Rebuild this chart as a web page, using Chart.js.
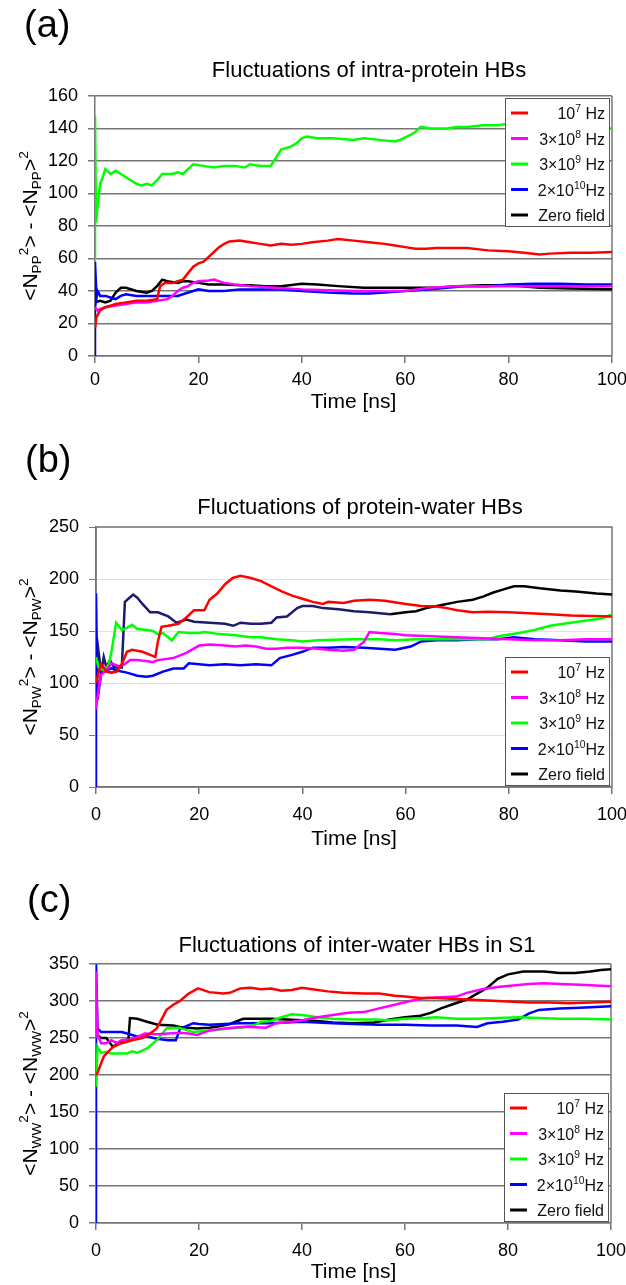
<!DOCTYPE html>
<html>
<head>
<meta charset="utf-8">
<script src="https://cdn.jsdelivr.net/npm/chart.js@4.4.1/dist/chart.umd.min.js"></script>
<style>
  html, body { margin: 0; padding: 0; background: #fff; }
  #wrap { position: relative; width: 626px; height: 1285px; }
  canvas { position: absolute; left: 0; }
</style>
</head>
<body>
<div id="wrap">
  <canvas id="chartPP" width="626" height="430" style="top:0"></canvas>
  <canvas id="chartPW" width="626" height="430" style="top:430px"></canvas>
  <canvas id="chartWW" width="626" height="425" style="top:860px"></canvas>
</div>
<script>
// series labels (^{} = superscript, _{} = subscript)
const seriesLabels = ['10^{7} Hz', '3×10^{8} Hz', '3×10^{9} Hz', '2×10^{10}Hz', 'Zero field'];
const seriesColors = ['#ff0000', '#ff00ff', '#00ff00', '#0000ff', '#000000'];
const xTicks = [0, 20, 40, 60, 80, 100];

// (a) intra-protein HBs, [time ns, value]
const ppRed = [[0,17],[0.3,24],[1,28],[2,30],[3,31],[4,32],[6,33],[8,34],[10,34],[12,35],[12.6,43],[13.5,45],[15,45],[16,46],[17,47],[18,51],[19,55],[20,57],[21,58],[22,61],[23,64],[24,67],[25,69],[26,70.5],[28,71],[30,70],[32,69],[34,68],[36,69],[38,68.5],[40,69],[42,70],[45,71],[47,72],[50,71],[53,70],[56,69],[58,68],[60,67],[62,66],[64,66],[66,66.5],[68,66.5],[72,66.5],[76,65],[80,64.5],[83,63.5],[86,62.5],[88,63],[92,63.5],[96,63.5],[100,64]];
const ppMagenta = [[0,30],[0.5,28],[1,29],[2,30],[4,31],[6,32],[8,33],[10,33],[12,34],[14,35],[15,37],[16,40],[17,42],[18,43],[19,45],[20,46],[22,46.5],[23,47],[25,45],[27,44],[30,43],[35,42],[40,41],[45,40.5],[50,40],[55,40],[60,40],[65,42],[70,43],[75,43],[80,43],[90,43],[100,43]];
const ppGreen = [[0,60],[0,148],[0.2,82],[0.5,92],[1,106],[1.5,110],[2,115],[3,112],[4,114],[5,112],[6,110],[7,108],[8,106],[9,105],[10,106],[11,105],[12,108],[13,112],[15,112],[16,113],[17,112],[18,115],[19,118],[21,117],[23,116],[25,117],[27,117],[29,116],[30,118],[32,117],[34,117],[35,122],[36,127],[38,129],[39,131],[40,134],[41,135],[43,134],[46,134],[50,133],[52,134],[55,133],[58,132],[59,133],[61,136],[62,138],[63,141],[65,140],[68,140],[70,141],[72,141],[75,142],[78,142],[80,143],[85,143],[90,142],[95,141],[100,140]];
const ppBlue = [[0,0],[0,58],[0.3,36],[0.5,40],[1,37],[2,37],[3,36],[4,35],[5,37],[6,38],[8,37],[10,37],[12,37],[14,37],[16,37],[17,38],[19,40],[20,41],[22,40],[25,40],[28,41],[30,41],[35,41],[40,40],[45,39],[50,38.5],[53,38.5],[56,39],[60,40],[65,41],[68,42],[72,43],[76,43],[80,44],[85,44.5],[90,44.5],[95,44],[100,44]];
const ppBlack = [[0,33],[1,34],[2,33],[3,34],[4,39],[5,42],[6,42],[8,40],[10,39],[11,40],[12,43],[13,47],[14,46],[16,45],[17,46],[18,46],[20,45],[22,44],[25,44],[28,43.5],[30,43.5],[33,43],[36,43],[40,44.5],[43,44],[47,43],[52,42],[56,42],[62,42],[66,42],[70,43],[75,43.5],[78,43.5],[82,43],[86,42],[92,41.5],[100,41]];

// (b) protein-water HBs
const pwRed = [[0,100],[0.5,110],[1,118],[2,111],[3,110],[4,111],[5,118],[6,130],[7,132],[9,130],[11,126],[11.5,125],[12,140],[12.7,154],[14,155],[16,157],[17.5,163],[19,170],[21,170],[22,180],[23.5,186],[25,195],[26.5,201],[28,203],[30,201],[32,198],[34,193],[36,188],[38,184],[40,181],[42,178],[44,176],[45,178],[48,177],[50,179],[53,180],[56,179],[60,176],[63,174],[66,173.5],[68,172],[70,170],[73,168],[76,168.5],[80,168],[84,167],[88,166],[92,165],[96,164.5],[100,164]];
const pwMagenta = [[0,75],[0.5,95],[1,108],[2,112],[3,119],[4.5,116],[5.5,118],[6.6,122],[8,122],[10,121],[11,120],[12,122],[15,124],[17.5,129],[20,136],[22,137],[25,136],[27,135],[29,136],[31,135],[33,133],[35,133],[37,134],[40,134],[43,133],[45,132],[48,131],[50,132],[52,140],[53,149],[55,148],[58,147],[60,146],[65,145],[70,144],[75,143],[80,142],[85,141],[90,141],[95,142],[100,142]];
const pwGreen = [[0,125],[0.5,115],[1.5,112],[2.5,118],[3,130],[3.9,158],[5,151],[6,153],[7,156],[8,152],[10,151],[11,150],[12,147],[13,148],[14.7,141],[16,149],[18,148],[20,148],[21,149],[24,147],[27,146],[30,144],[32,144],[35,142],[38,141],[40,140],[43,141],[46,141.5],[50,142],[55,142],[58,141],[62,142],[66,142],[70,142],[74,142],[76,142],[78,145],[82,148],[85,151],[88,155],[92,158],[95,160],[98,162],[100,166]];
const pwBlue = [[0,0],[0,186],[0.3,84],[1,110],[2,112],[3,114],[4,112],[6,110],[8,107],[9.8,106],[11,107],[13,111],[15,114],[17,114],[18,119],[20,118],[22,117],[25,118],[28,117],[31,118],[34,117],[35.6,124],[38,127],[40,130],[42,134],[45,134],[48,134.5],[52,134],[55,133],[58,132],[61,135],[63,140],[66,141],[70,141],[74,142],[78,142],[81,144],[85,142],[90,141],[95,140],[100,140]];
const pwBlack = [[0,110],[0.4,134],[1,110],[1.5,125],[2,115],[2.7,122],[3.5,115],[5,115],[5.6,178],[6.5,182],[7.2,185],[8,182],[9,176],[10.5,168],[12,168],[14,164],[15.6,158],[17.5,161],[19,159],[22,158],[25,157],[26.6,155],[28,158],[30,157],[32,157],[34,158],[35,163],[37,164],[39,172],[40,174],[42,174],[44,172],[47,171],[50,169],[53,168],[57,166],[60,168],[62,169],[64,172],[67,175],[70,178],[73,180],[75,183],[77,187],[79,190],[81,193],[83,193],[86,191],[90,189],[93,188],[97,186],[100,185]];

// (c) inter-water HBs in S1
const wwRed = [[0,200],[0.3,203],[1.5,225],[3.3,238],[5,243],[7,247],[9,250],[10.5,256],[11.8,263],[12.5,272],[13.7,288],[15,295],[16.3,300],[18,310],[19.8,317],[22,312],[24.7,310],[26,311],[28,317],[30,318],[32,316],[34,317],[36,314],[38,315],[40,318],[42,316],[45,313],[48,311],[52,310],[55,310],[58,307],[60,306],[63,304],[66,304],[69,303],[72,302],[75,301],[78,300],[81,299],[84,298],[88,298],[92,297],[96,298],[100,299]];
const wwMagenta = [[0,250],[0,340],[0.3,255],[1,243],[2,243],[3,247],[4,243],[5,247],[7,248],[9.5,256],[12,255],[14,256],[16.3,257],[18,256],[19.6,254],[22,260],[25,263],[28,265],[30,265],[33,264],[35,270],[38,272],[40,274],[43,278],[46,281],[49,284],[52,285],[55,290],[58,295],[61,300],[64,304],[67,305],[70,306],[72,311],[75,316],[78,319],[81,321],[84,323],[87,324],[90,323],[94,322],[97,321],[100,320]];
const wwGreen = [[0,184],[0.3,238],[1,230],[2,231],[3,229],[4,229],[6,229],[7,232],[8,230],[9.9,236],[11.8,247],[13.7,263],[16,264],[18.9,258],[22,260],[25,262],[28,264],[31,268],[32,272],[34,273],[36,278],[38,282],[40,281],[43,278],[46,276],[50,275],[54,275],[57,274],[60,276],[64,277],[66,278],[70,276],[74,276],[78,277],[82,278],[86,277],[90,276],[95,276],[100,275]];
const wwBlue = [[0,0],[0,350],[0.3,263],[1,258],[3,258],[5,258],[6,256],[8,252],[10,252],[11.8,249],[14,247],[15.5,247],[16.3,262],[17.5,266],[18.9,270],[20,269],[22,268],[25,269],[28,270],[31,270],[34,270],[37,271],[40,272],[43,271],[46,270],[50,269],[55,268],[60,268],[65,267],[70,267],[74,265],[76,270],[79,272],[82,275],[84,283],[86,288],[90,290],[94,291],[97,292],[100,293]];
const wwBlack = [[0,255],[1,250],[2,250],[3.3,238],[5,246],[6.3,248],[6.6,277],[8,276],[9.9,272],[12,268],[15,267],[16.3,265],[19.5,263],[22,264],[24,266],[26,269],[28.6,276],[31,276],[34,276],[37,275],[40,274],[43,273],[46,271],[50,270],[54,271],[57,275],[60,278],[63,280],[65,284],[67,290],[69,295],[72,302],[74,310],[76,318],[78,330],[80,336],[83,340],[87,340],[90,338],[93,338],[96,340],[98,342],[100,343]];

const FONT = '"Liberation Sans", Arial, Helvetica, sans-serif';
const AXIS = '#767676';
Chart.defaults.font.family = FONT;

// draws text with ^{..} superscripts and _{..} subscripts
function drawRich(ctx, str, x, y, size, align) {
  const parts = [];
  const re = /([_^])\{([^}]*)\}|([^_^]+)/g;
  let m;
  while ((m = re.exec(str))) {
    if (m[3]) parts.push({ t: m[3], s: size, dy: 0 });
    else parts.push({ t: m[2], s: size * 0.65, dy: m[1] === '^' ? -size * 0.42 : size * 0.2 });
  }
  let total = 0;
  parts.forEach(p => { ctx.font = p.s + 'px ' + FONT; p.w = ctx.measureText(p.t).width; total += p.w; });
  let cx = align === 'right' ? x - total : align === 'center' ? x - total / 2 : x;
  ctx.textAlign = 'left';
  ctx.textBaseline = 'alphabetic';
  parts.forEach(p => {
    ctx.font = p.s + 'px ' + FONT;
    ctx.fillText(p.t, cx, y + p.dy);
    cx += p.w;
  });
}

const framePlugin = {
  id: 'frame',
  beforeDatasetsDraw(chart, args, opts) {
    const { ctx, chartArea: a } = chart;
    ctx.save();
    ctx.strokeStyle = AXIS;
    ctx.lineWidth = 1.5;
    ctx.beginPath();
    if (opts.box) {
      ctx.rect(a.left, a.top, a.right - a.left, a.bottom - a.top);
    } else {
      ctx.moveTo(a.right, a.top);
      ctx.lineTo(a.right, a.bottom);
    }
    ctx.stroke();
    ctx.restore();
  },
  afterDatasetsDraw(chart, args, opts) {
    // legend box
    const { ctx, chartArea: a } = chart;
    const w = 104, h = 128;
    const x0 = a.right - w - 3;
    const y0 = opts.legendTop ? a.top + 2 : a.bottom - h - 2;
    ctx.save();
    ctx.fillStyle = '#fff';
    ctx.fillRect(x0, y0, w, h);
    ctx.strokeStyle = '#555';
    ctx.lineWidth = 1;
    ctx.strokeRect(x0 + 0.5, y0 + 0.5, w, h);
    chart.data.datasets.forEach((ds, i) => {
      const cy = y0 + 15 + i * 25.5;
      ctx.strokeStyle = ds.borderColor;
      ctx.lineWidth = 3;
      ctx.beginPath();
      ctx.moveTo(x0 + 6, cy);
      ctx.lineTo(x0 + 23, cy);
      ctx.stroke();
      ctx.fillStyle = '#111';
      drawRich(ctx, ds.label, x0 + w - 4, cy + 6, 16, 'right');
    });
    ctx.restore();
  },
  afterDraw(chart, args, opts) {
    const { ctx, chartArea: a } = chart;
    ctx.save();
    ctx.fillStyle = '#000';
    ctx.font = '38px ' + FONT;
    ctx.textAlign = 'left';
    ctx.textBaseline = 'middle';
    ctx.fillText(opts.tag, opts.tagX, opts.tagY);
    ctx.font = '22px ' + FONT;
    ctx.textAlign = 'center';
    ctx.fillText(opts.title, opts.titleX, opts.titleY);
    ctx.translate(37, (a.top + a.bottom) / 2);
    ctx.rotate(-Math.PI / 2);
    drawRich(ctx, opts.yTitle, 0, 0, 21, 'center');
    ctx.restore();
  }
};

function makeChart(id, p) {
  const datasets = p.series.map((pts, i) => ({
    label: seriesLabels[i],
    data: pts.map(d => ({ x: d[0], y: d[1] })),
    borderColor: seriesColors[i],
    borderWidth: 2.5,
    pointRadius: 0,
    tension: 0,
    fill: false,
    segment: p.navyUntil && i === 4 ? { borderColor: c => c.p1.parsed.x <= p.navyUntil ? '#1c1c6c' : '#000' } : undefined
  }));
  return new Chart(document.getElementById(id), {
    type: 'line',
    data: { datasets },
    plugins: [framePlugin],
    options: {
      responsive: false,
      animation: false,
      layout: { padding: { left: 0, right: p.rightPad, top: p.top, bottom: 0 } },
      plugins: {
        legend: { display: false },
        tooltip: { enabled: false },
        frame: {
          box: p.box, legendTop: p.legendTop, tag: p.tag, tagX: p.tagX, tagY: p.tagY,
          title: p.title, titleX: p.titleX, titleY: p.titleY, yTitle: p.yTitle
        }
      },
      scales: {
        x: {
          type: 'linear', min: 0, max: 100,
          afterBuildTicks: s => { s.ticks = xTicks.map(v => ({ value: v })); },
          ticks: { color: '#000', font: { size: 18 }, padding: p.xTickPad, maxRotation: 0 },
          grid: { drawOnChartArea: false, drawTicks: true, tickLength: 7, color: AXIS, lineWidth: 1.5 },
          border: { color: AXIS, width: 1.5 },
          title: { display: true, text: 'Time [ns]', color: '#000', font: { size: 21 }, padding: { top: 0, bottom: p.xTitlePad } },
          afterFit: s => { s.height = p.xHeight; s.paddingLeft = 0; s.paddingRight = 0; }
        },
        y: {
          min: 0, max: p.yMax,
          ticks: { stepSize: p.yStep, color: '#000', font: { size: 18 }, padding: 10 },
          grid: { color: p.gridColor, lineWidth: p.gridWidth, tickColor: AXIS, tickLength: 7 },
          border: { color: AXIS, width: 1.5 },
          afterFit: s => { s.width = p.left; s.paddingTop = 0; s.paddingBottom = 0; }
        }
      }
    }
  });
}

makeChart('chartPP', {
  series: [ppRed, ppMagenta, ppGreen, ppBlue, ppBlack],
  yMax: 160, yStep: 20, left: 95, rightPad: 14, top: 96, xHeight: 74, xTickPad: 6, xTitlePad: 15,
  gridColor: AXIS, gridWidth: 1.5, box: false, legendTop: true,
  tag: '(a)', tagX: 24, tagY: 27, title: 'Fluctuations of intra-protein HBs', titleX: 369, titleY: 71,
  yTitle: '<N_{PP}^{2}> - <N_{PP}>^{2}'
});
makeChart('chartPW', {
  series: [pwRed, pwMagenta, pwGreen, pwBlue, pwBlack], navyUntil: 58,
  yMax: 250, yStep: 50, left: 96, rightPad: 14, top: 97, xHeight: 73, xTickPad: 10, xTitlePad: 8,
  gridColor: '#e2e2e2', gridWidth: 1, box: true, legendTop: false,
  tag: '(b)', tagX: 25, tagY: 32, title: 'Fluctuations of protein-water HBs', titleX: 360, titleY: 78,
  yTitle: '<N_{PW}^{2}> - <N_{PW}>^{2}'
});
makeChart('chartWW', {
  series: [wwRed, wwMagenta, wwGreen, wwBlue, wwBlack],
  yMax: 350, yStep: 50, left: 96, rightPad: 15, top: 104, xHeight: 62, xTickPad: 10, xTitlePad: 0,
  gridColor: AXIS, gridWidth: 1.5, box: false, legendTop: false,
  tag: '(c)', tagX: 27, tagY: 42, title: 'Fluctuations of inter-water HBs in S1', titleX: 357, titleY: 86,
  yTitle: '<N_{WW}^{2}> - <N_{WW}>^{2}'
});
</script>
</body>
</html>
